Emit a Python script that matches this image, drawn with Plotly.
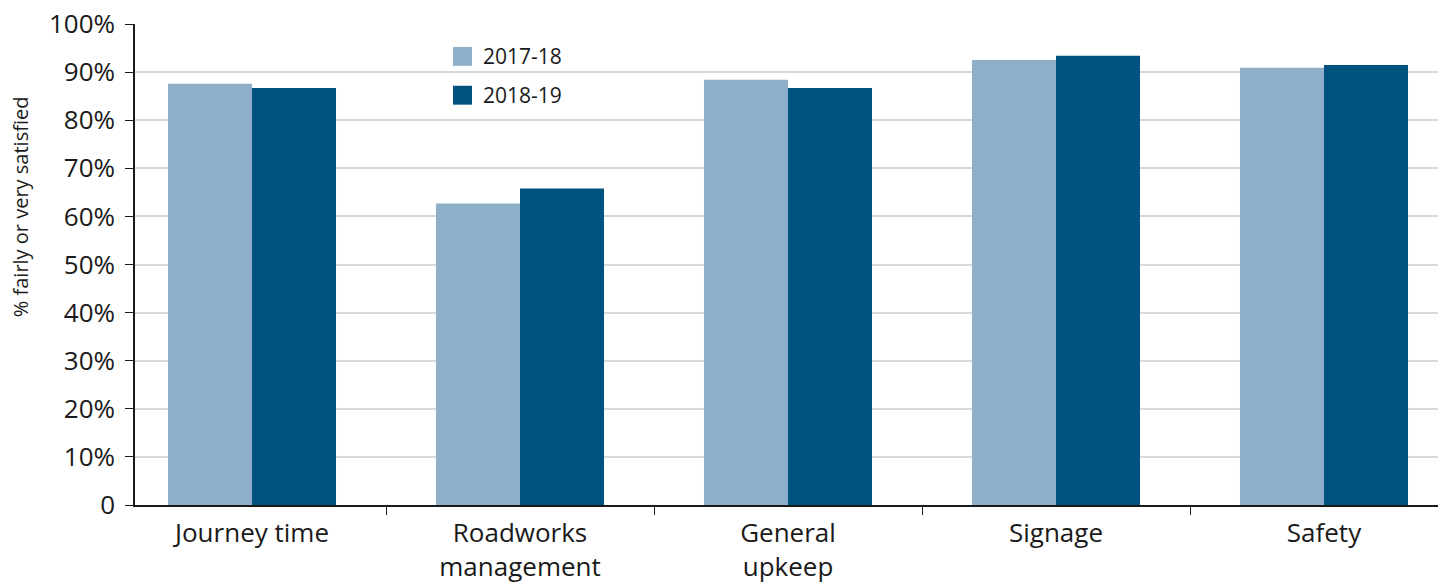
import plotly.graph_objects as go

# Satisfaction with roads, by aspect and survey year
categories = ["Journey time", "Roadworks<br>management", "General<br>upkeep", "Signage", "Safety"]
series_names = ["2017-18", "2018-19"]
values_2017_18 = [87.6, 62.7, 88.4, 92.5, 90.9]
values_2018_19 = [86.7, 65.8, 86.7, 93.4, 91.5]
y_ticks = [0, 10, 20, 30, 40, 50, 60, 70, 80, 90, 100]
y_tick_labels = ["0", "10%", "20%", "30%", "40%", "50%", "60%", "70%", "80%", "90%", "100%"]

colors = ["#8eafca", "#00527f"]
FONT = "Open Sans"
TEXT = "#1a1a1a"

W, H = 1438, 584
ML, MR, MT, MB = 135, 0, 24, 77

fig = go.Figure()
for name, vals, col in zip(series_names, [values_2017_18, values_2018_19], colors):
    fig.add_trace(go.Bar(
        name=name, x=categories, y=vals,
        marker=dict(color=col, line=dict(width=0)),
        showlegend=False,
    ))

# Legend drawn as squares plus labels in paper coordinates
pw, ph = W - ML - MR, H - MT - MB
def px_x(x):
    return (x - ML) / pw
def px_y(y):
    return (H - MB - y) / ph

shapes = []
annotations = []
for i, (name, col) in enumerate(zip(series_names, colors)):
    cy = 56.5 + i * 39
    shapes.append(dict(type="rect", xref="paper", yref="paper",
                       x0=px_x(453), x1=px_x(472), y0=px_y(cy + 9.5), y1=px_y(cy - 9.5),
                       fillcolor=col, line=dict(width=0), layer="above"))
    annotations.append(dict(xref="paper", yref="paper", x=px_x(481), y=px_y(cy),
                            xanchor="left", yanchor="middle", text=name, showarrow=False,
                            font=dict(family=FONT, size=21, color=TEXT)))

# Vertical axis title
annotations.append(dict(xref="paper", yref="paper", x=px_x(20), y=px_y(208),
                        xanchor="center", yanchor="middle", text="% fairly or very satisfied",
                        textangle=-90, showarrow=False,
                        font=dict(family=FONT, size=20, color=TEXT)))

fig.update_layout(
    width=W, height=H,
    margin=dict(l=ML, r=MR, t=MT, b=MB, pad=0),
    paper_bgcolor="white", plot_bgcolor="white",
    barmode="group", bargap=0.373, bargroupgap=0,
    shapes=shapes, annotations=annotations,
    font=dict(family=FONT, color=TEXT),
)
fig.update_xaxes(
    range=[-0.4366, 4.4254],
    showline=True, linecolor="#1a1a1a", linewidth=1.5,
    ticks="outside", tickson="boundaries", ticklen=8, tickcolor="#1a1a1a", tickwidth=1,
    ticklabelstandoff=4,
    tickfont=dict(family=FONT, size=26, color=TEXT),
    showgrid=False,
)
fig.update_yaxes(
    range=[0, 100],
    tickvals=y_ticks, ticktext=y_tick_labels,
    showline=True, linecolor="#1a1a1a", linewidth=1.5,
    ticks="outside", ticklen=8, tickcolor="#1a1a1a", tickwidth=1,
    ticklabelstandoff=5,
    tickfont=dict(family=FONT, size=26, color=TEXT),
    showgrid=True, gridcolor="#d9d9d9", gridwidth=1.5,
    zeroline=False,
)

fig.write_html("out.html")
